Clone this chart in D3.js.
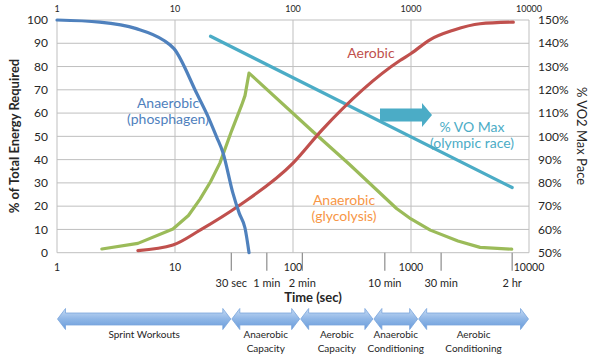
<!DOCTYPE html>
<html><head><meta charset="utf-8">
<script src="https://cdn.jsdelivr.net/npm/d3@7/dist/d3.min.js"></script>
<style>body{margin:0;background:#fff}svg{display:block;font-family:Lato,"Open Sans",sans-serif}</style>
</head><body>
<svg id="c" width="600" height="355"></svg>
<script>
// ---- data ----
const decadeTicks = [1, 10, 100, 1000, 10000];
const timeTicks = [30, 60, 120, 600, 1800, 7200];
const timeTickLabels = ["30 sec", "1 min", "2 min", "10 min", "30 min", "2 hr"];
const leftTicks = [0,10,20,30,40,50,60,70,80,90,100];
const rightTicks = [50,60,70,80,90,100,110,120,130,140,150];

const phosphagenT = [1, 2.3, 4.7, 8, 9.8, 15.3, 19.1, 22.5, 25.5, 31, 35, 39.2, 42.4];
const phosphagenV = [100, 99.1, 96.3, 91.3, 87.7, 68.4, 58.4, 49.8, 43, 25.5, 17, 10.6, 0];

const glycolysisT = [2.4, 4.85, 9.6, 13, 16.3, 20, 24, 30.3, 36.7, 39.2, 42.4, 144, 300, 754, 1000, 1457, 2500, 3848, 7140];
const glycolysisV = [1.6, 4, 10.2, 16, 23, 30.5, 38.5, 52.6, 63.4, 67.5, 77.2, 52.5, 38, 19, 14.5, 9.7, 5, 2.3, 1.5];

const aerobicT = [4.85, 9.6, 16.3, 35.5, 100, 175, 806, 1000, 1457, 2279, 3848, 7360];
const aerobicV = [0.9, 3.3, 9.7, 20.5, 38.5, 52.6, 82.6, 85.6, 91.6, 95.6, 98.4, 99.1];

const vo2T = [20, 7200];
const vo2V = [143, 78];

const zoneBounds = [1, 30, 115, 480, 1150, 10000];
const zoneLabels = [["Sprint Workouts"], ["Anaerobic","Capacity"], ["Aerobic","Capacity"], ["Anaerobic","Conditioning"], ["Aerobic","Conditioning"]];

// ---- scales ----
const svg = d3.select("#c");
const x = d3.scaleLog().domain([1, 10000]).range([57, 529]);
const yL = d3.scaleLinear().domain([0, 100]).range([252.7, 20]);
const yR = d3.scaleLinear().domain([50, 150]).range([252.7, 20]);

const C = {blue:"#4f81bd", red:"#c0504d", green:"#9bbb59", cyan:"#4bacc6", orange:"#f79646", grid:"#bfbfbf", text:"#262626"};

// gridlines
svg.append("g").selectAll("line").data(leftTicks).join("line")
  .attr("x1", x(1)).attr("x2", x(10000)).attr("y1", d=>yL(d)).attr("y2", d=>yL(d))
  .attr("stroke", C.grid).attr("stroke-width", 1);
svg.append("g").selectAll("line").data(decadeTicks).join("line")
  .attr("x1", d=>x(d)).attr("x2", d=>x(d)).attr("y1", yL(100)).attr("y2", yL(0))
  .attr("stroke", C.grid).attr("stroke-width", 1);

// secondary time ticks below
svg.append("g").selectAll("line").data(timeTicks).join("line")
  .attr("x1", d=>x(d)).attr("x2", d=>x(d)).attr("y1", yL(0)).attr("y2", yL(0)+18)
  .attr("stroke", "#8c8c8c").attr("stroke-width", 1.2);
svg.append("g").selectAll("text").data(timeTicks).join("text")
  .attr("x", d=>x(d)).attr("y", 287).attr("text-anchor","middle")
  .attr("font-size", 11).attr("fill", C.text).text((d,i)=>timeTickLabels[i]);

// decade labels top & bottom
svg.append("g").selectAll("text").data(decadeTicks).join("text")
  .attr("x", d=>x(d)).attr("y", 12).attr("text-anchor","middle")
  .attr("font-size", 9).attr("fill", C.text).text(d=>d);
svg.append("g").selectAll("text").data(decadeTicks).join("text")
  .attr("x", d=>x(d)).attr("y", 271).attr("text-anchor","middle")
  .attr("font-size", 10.5).attr("fill", C.text).text(d=>d);

// left ticks
svg.append("g").selectAll("text").data(leftTicks).join("text")
  .attr("x", 48).attr("y", d=>yL(d)).attr("dy","0.35em").attr("text-anchor","end")
  .attr("font-size", 12).attr("fill", C.text).text(d=>d);
// right ticks
svg.append("g").selectAll("text").data(rightTicks).join("text")
  .attr("x", 538).attr("y", d=>yR(d)).attr("dy","0.35em").attr("text-anchor","start")
  .attr("font-size", 12).attr("fill", C.text).text(d=>d+"%");

// axis titles
svg.append("text").attr("transform","translate(19,136) rotate(-90)").attr("text-anchor","middle")
  .attr("font-size", 13).attr("font-weight","bold").attr("fill", C.text).text("% of Total Energy Required");
svg.append("text").attr("transform","translate(577,136) rotate(90)").attr("text-anchor","middle")
  .attr("font-size", 13).attr("fill", C.text).text("% VO2 Max Pace");
svg.append("text").attr("x", 313).attr("y", 302).attr("text-anchor","middle")
  .attr("font-size", 13).attr("font-weight","bold").attr("fill", C.text).text("Time (sec)");

// series
function draw(ts, vs, ys, color, curve) {
  const pts = ts.map((t,i)=>[x(t), ys(vs[i])]);
  svg.append("path").attr("d", d3.line().curve(curve)(pts))
    .attr("fill","none").attr("stroke", color).attr("stroke-width", 3.2)
    .attr("stroke-linejoin","round").attr("stroke-linecap","round");
}
draw(vo2T, vo2V, yR, C.cyan, d3.curveLinear);
draw(glycolysisT, glycolysisV, yL, C.green, d3.curveLinear);
draw(aerobicT, aerobicV, yL, C.red, d3.curveMonotoneX);
draw(phosphagenT, phosphagenV, yL, C.blue, d3.curveMonotoneX);

// cyan block arrow annotation
(function(){
  const x0 = x(546), x1 = x(1507), yc = yR(109.2), bh = 6.5, hh = 12, hl = 10;
  svg.append("path").attr("d", d3.line()([[x0,yc-bh],[x1-hl,yc-bh],[x1-hl,yc-hh],[x1,yc],[x1-hl,yc+hh],[x1-hl,yc+bh],[x0,yc+bh]])+"Z")
    .attr("fill", C.cyan);
})();

// series labels
function label(lines, cx, cy, color, size) {
  svg.append("g").selectAll("text").data(lines).join("text")
    .attr("x", cx).attr("y", (d,i)=>cy + i*16.5).attr("dy","0.35em").attr("text-anchor","middle")
    .attr("font-size", size).attr("fill", color).text(d=>d);
}
label(["Anaerobic","(phosphagen)"], 168, 103, C.blue, 14);
label(["Aerobic"], 371, 53, C.red, 14);
label(["% VO Max","(olympic race)"], 472, 127, C.cyan, 14);
label(["Anaerobic","(glycolysis)"], 344, 200, C.orange, 14);

// bottom zone double arrows
const defs = svg.append("defs");
const gr = defs.append("linearGradient").attr("id","ag").attr("x1",0).attr("y1",0).attr("x2",0).attr("y2",1);
gr.append("stop").attr("offset","0%").attr("stop-color","#c6dbf4");
gr.append("stop").attr("offset","50%").attr("stop-color","#8fb6e6");
gr.append("stop").attr("offset","100%").attr("stop-color","#6a9cdb");
const ayc = 319, abh = 6, ahh = 10.5, ahl = 8;
for (let i = 0; i < zoneLabels.length; i++) {
  const a = x(zoneBounds[i]) + 0.5, b = x(zoneBounds[i+1]) - 0.5;
  const p = [[a,ayc],[a+ahl,ayc-ahh],[a+ahl,ayc-abh],[b-ahl,ayc-abh],[b-ahl,ayc-ahh],[b,ayc],
             [b-ahl,ayc+ahh],[b-ahl,ayc+abh],[a+ahl,ayc+abh],[a+ahl,ayc+ahh]];
  svg.append("path").attr("d", d3.line()(p)+"Z").attr("fill","url(#ag)")
    .attr("stroke","#79a5dc").attr("stroke-width",0.8);
  const cx = (a+b)/2;
  svg.append("g").selectAll("text").data(zoneLabels[i]).join("text")
    .attr("x", cx).attr("y", (d,j)=>334 + j*14).attr("dy","0.35em").attr("text-anchor","middle")
    .attr("font-size", 10).attr("fill", C.text).text(d=>d);
}
</script>
</body></html>
